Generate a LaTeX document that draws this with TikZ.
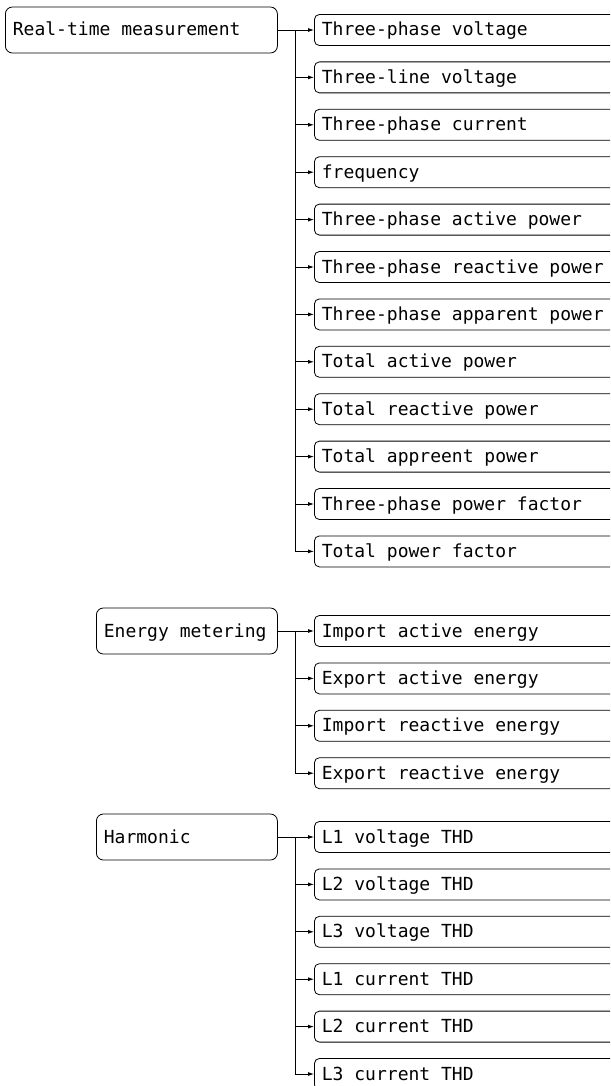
\documentclass[tikz,border=0pt]{standalone}
\usepackage{fontspec}
\newfontfamily\diagmono{DejaVu Sans Mono}
\usetikzlibrary{arrows.meta}
\newcommand\diagfont{\diagmono\fontsize{18}{20}\selectfont}
\tikzset{
  rootbox/.style={draw=black, line width=0.8pt, rounded corners=7pt, anchor=west,
    align=left, inner xsep=7.5pt, inner ysep=0pt, minimum height=46pt,
    text height=14pt, text depth=2pt, font=\diagfont,
    execute at begin node={\spaceskip=0.602em\relax}},
  leafbox/.style={draw=black, line width=0.8pt, rounded corners=5pt, anchor=west,
    align=left, text width=314pt, inner xsep=7.5pt, inner ysep=0pt, minimum height=31pt,
    text height=14pt, text depth=2pt, font=\diagfont,
    execute at begin node={\spaceskip=0.602em\relax}},
  link/.style={draw=black, line width=0.8pt},
  tip/.style={link, -{Latex[length=6pt,width=4pt]}},
}
\begin{document}
\begin{tikzpicture}[x=1pt,y=-1pt]
\useasboundingbox (0,0) rectangle (610,1086);
\clip (0,0) rectangle (610,1086);
% group 1
\node[rootbox, text width=257pt] (r1) at (5,30) {Real-time measurement};
\coordinate (t1) at (295,30);
\node[leafbox] (a1) at (314,30.0) {Three-phase voltage};
\node[leafbox] (a2) at (314,77.4) {Three-line voltage};
\node[leafbox] (a3) at (314,124.8) {Three-phase current};
\node[leafbox] (a4) at (314,172.2) {frequency};
\node[leafbox] (a5) at (314,219.6) {Three-phase active power};
\node[leafbox] (a6) at (314,267.0) {Three-phase reactive power};
\node[leafbox] (a7) at (314,314.4) {Three-phase apparent power};
\node[leafbox] (a8) at (314,361.8) {Total active power};
\node[leafbox] (a9) at (314,409.2) {Total reactive power};
\node[leafbox] (a10) at (314,456.6) {Total appreent power};
\node[leafbox] (a11) at (314,504.0) {Three-phase power factor};
\node[leafbox] (a12) at (314,551.4) {Total power factor};
\draw[link] (r1.east) -- (t1) -- (t1 |- a12.west);
\foreach \i in {1,...,12} \draw[tip] (t1 |- a\i.west) -- (a\i.west);
% group 2
\node[rootbox, text width=166pt] (r2) at (96,631) {Energy metering};
\coordinate (t2) at (295,631);
\node[leafbox] (b1) at (314,631.0) {Import active energy};
\node[leafbox] (b2) at (314,678.4) {Export active energy};
\node[leafbox] (b3) at (314,725.8) {Import reactive energy};
\node[leafbox] (b4) at (314,773.2) {Export reactive energy};
\draw[link] (r2.east) -- (t2) -- (t2 |- b4.west);
\foreach \i in {1,...,4} \draw[tip] (t2 |- b\i.west) -- (b\i.west);
% group 3
\node[rootbox, text width=166pt] (r3) at (96,837) {Harmonic};
\coordinate (t3) at (295,837);
\node[leafbox] (c1) at (314,837.0) {L1 voltage THD};
\node[leafbox] (c2) at (314,884.4) {L2 voltage THD};
\node[leafbox] (c3) at (314,931.8) {L3 voltage THD};
\node[leafbox] (c4) at (314,979.2) {L1 current THD};
\node[leafbox] (c5) at (314,1026.6) {L2 current THD};
\node[leafbox] (c6) at (314,1074.0) {L3 current THD};
\draw[link] (r3.east) -- (t3) -- (t3 |- c6.west);
\foreach \i in {1,...,6} \draw[tip] (t3 |- c\i.west) -- (c\i.west);
\end{tikzpicture}
\end{document}
